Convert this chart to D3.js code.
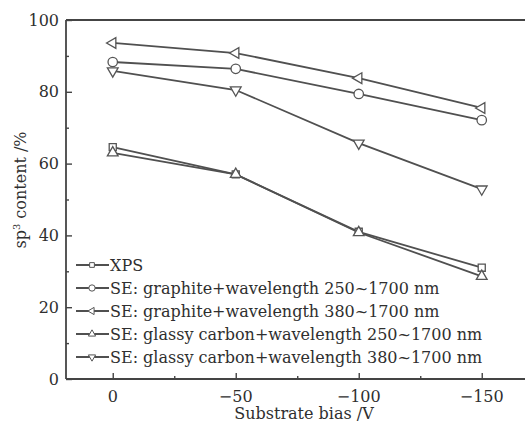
<!DOCTYPE html>
<html>
<head>
<meta charset="utf-8">
<script src="https://cdn.jsdelivr.net/npm/d3@7"></script>
<style>
html,body{margin:0;padding:0;background:#fff;}
svg{display:block;}
text{font-family:"DejaVu Serif","Liberation Serif",serif;fill:#2f2f2f;}
</style>
</head>
<body>
<svg id="c" width="525" height="425"></svg>
<script>
const bias = [0, -50, -100, -150];
const xps = [64.6, 57.0, 41.0, 31.0];
const seGraphite250 = [88.3, 86.4, 79.4, 72.1];
const seGraphite380 = [93.6, 90.8, 83.8, 75.5];
const seGlassy250 = [63.0, 57.0, 40.8, 28.6];
const seGlassy380 = [85.8, 80.5, 65.7, 52.9];
const seriesNames = ["XPS",
  "SE: graphite+wavelength 250~1700 nm",
  "SE: graphite+wavelength 380~1700 nm",
  "SE: glassy carbon+wavelength 250~1700 nm",
  "SE: glassy carbon+wavelength 380~1700 nm"];
const yTicks = [0, 20, 40, 60, 80, 100];
const yMinor = [10, 30, 50, 70, 90];
const xTicks = [0, -50, -100, -150];
const xMinor = [-25, -75, -125];

const series = [
  {name: seriesNames[0], values: xps, sym: "square"},
  {name: seriesNames[1], values: seGraphite250, sym: "circle"},
  {name: seriesNames[2], values: seGraphite380, sym: "left"},
  {name: seriesNames[3], values: seGlassy250, sym: "up"},
  {name: seriesNames[4], values: seGlassy380, sym: "down"}
];

const svg = d3.select("#c");
const ink = "#444";
const x = d3.scaleLinear().domain([19, -170]).range([66, 66 + 189 * 2.46]);
const y = d3.scaleLinear().domain([0, 100]).range([379, 20]);

function symPath(sym, scale) {
  const k = scale || 1;
  if (sym === "square") return {d: d3.symbol(d3.symbolSquare, 50 * k)(), rot: 0};
  if (sym === "circle") return {d: d3.symbol(d3.symbolCircle, 70 * k)(), rot: 0};
  const d = d3.symbol(d3.symbolTriangle, 50 * k)();
  return {d, rot: sym === "up" ? 0 : sym === "down" ? 180 : -90};
}

// frame lines
svg.append("line").attr("x1", x(19)).attr("x2", 525).attr("y1", y(100)).attr("y2", y(100))
  .attr("stroke", ink).attr("stroke-width", 1.8);
const gy = svg.append("g").attr("transform", `translate(${x(19)},0)`);
gy.call(d3.axisRight(y).tickValues(yTicks).tickSize(6).tickFormat(""));
gy.append("g").call(d3.axisRight(y).tickValues(yMinor).tickSize(3).tickFormat(""));
gy.selectAll(".domain").remove();
gy.selectAll("line").attr("stroke", ink).attr("stroke-width", 1.4);
svg.append("line").attr("x1", x(19)).attr("x2", x(19)).attr("y1", y(100)).attr("y2", y(0))
  .attr("stroke", ink).attr("stroke-width", 1.8);
yTicks.forEach(v => {
  svg.append("text").attr("x", x(19) - 7).attr("y", y(v)).attr("dy", "0.35em")
    .attr("text-anchor", "end").attr("font-size", 16).text(v);
});

const gx = svg.append("g").attr("transform", `translate(0,${y(0)})`);
gx.call(d3.axisTop(x).tickValues(xTicks).tickSize(6).tickFormat(""));
gx.append("g").call(d3.axisTop(x).tickValues(xMinor).tickSize(3).tickFormat(""));
gx.selectAll(".domain").remove();
gx.selectAll("line").attr("stroke", ink).attr("stroke-width", 1.4);
svg.append("line").attr("x1", x(19)).attr("x2", 525).attr("y1", y(0)).attr("y2", y(0))
  .attr("stroke", ink).attr("stroke-width", 1.8);
xTicks.forEach(v => {
  svg.append("text").attr("x", x(v)).attr("y", y(0) + 23)
    .attr("text-anchor", "middle").attr("font-size", 16).text(v === 0 ? "0" : "\u2212" + Math.abs(v));
});

svg.append("text").attr("x", 304).attr("y", 419).attr("text-anchor", "middle")
  .attr("font-size", 16).text("Substrate bias /V");
const yl = svg.append("text").attr("transform", "translate(26,190) rotate(-90)")
  .attr("text-anchor", "middle").attr("font-size", 16);
yl.append("tspan").text("sp");
yl.append("tspan").attr("font-size", 10).attr("dy", -6).text("3");
yl.append("tspan").attr("dy", 6).text(" content /%");

// series
const line = d3.line().x((d, i) => x(bias[i])).y(d => y(d));
series.forEach(s => {
  svg.append("path").attr("d", line(s.values)).attr("fill", "none")
    .attr("stroke", "#505050").attr("stroke-width", 1.8);
});
series.forEach(s => {
  const p = symPath(s.sym);
  s.values.forEach((v, i) => {
    svg.append("path").attr("d", p.d)
      .attr("transform", `translate(${x(bias[i])},${y(v)}) rotate(${p.rot})`)
      .attr("fill", "#fff").attr("stroke", "#555").attr("stroke-width", 1.3);
  });
});

// legend
series.forEach((s, i) => {
  const cy = 265 + i * 23;
  svg.append("line").attr("x1", 76).attr("x2", 109).attr("y1", cy).attr("y2", cy)
    .attr("stroke", "#505050").attr("stroke-width", 1.8);
  const p = symPath(s.sym, 0.45);
  svg.append("path").attr("d", p.d).attr("transform", `translate(92,${cy}) rotate(${p.rot})`)
    .attr("fill", "#fff").attr("stroke", "#555").attr("stroke-width", 1);
  svg.append("text").attr("x", 110).attr("y", cy).attr("dy", "0.35em")
    .attr("font-size", 16).text(s.name);
});
</script>
</body>
</html>
